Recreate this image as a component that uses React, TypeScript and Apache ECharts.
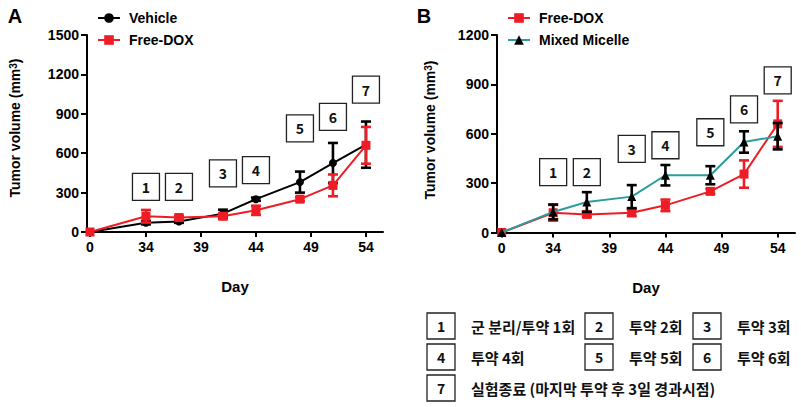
import React, { useEffect, useRef } from 'react';
import * as echarts from 'echarts';

// ---- data ----
const days = [0, 34, 37, 41, 44, 48, 51, 54];
const vehicle = [0, 70, 80, 140, 250, 380, 525, 665];
const vehicleErr = [0, 12, 10, 30, 12, 80, 153, 176];
const freeDox = [0, 120, 110, 120, 165, 250, 355, 660];
const freeDoxErr = [0, 48, 15, 20, 35, 15, 83, 140];
const micelle = [0, 125, 185, 218, 348, 348, 550, 585];
const micelleErr = [0, 45, 60, 70, 62, 55, 65, 80];

const xTickDays = [0, 34, 39, 44, 49, 54];
const yMaxA = 1500;
const yMaxB = 1200;
const yInterval = 300;

const stepDays = [34, 37, 41, 44, 48, 51, 54];
const stepLabels = ['1', '2', '3', '4', '5', '6', '7'];
const stepBoxYA = [343, 343, 446, 471, 789, 876, 1084];
const stepBoxYB = [367, 367, 508, 530, 609, 748, 924];
const stepNotes = [
  '군 분리/투약 1회',
  '투약 2회',
  '투약 3회',
  '투약 4회',
  '투약 5회',
  '투약 6회',
  '실험종료 (마지막 투약 후 3일 경과시점)',
];

// ---- layout / style ----
const FONT = 'Arial, "Liberation Sans", sans-serif';
const KFONT = '"Noto Sans CJK KR", "Noto Sans", sans-serif';
const RED = '#ee1c25';
const TEAL = '#2a9d9f';
const BLACK = '#000';

// broken x axis: day 0 is drawn just right of the y axis
const PANEL_A = { zero: 28.91, min: 28.64, max: 55.55 };
const PANEL_B = { zero: 29.42, min: 29.0, max: 55.54 };

const xPos = (d: number, zero: number) => (d === 0 ? zero : d);

function lineData(vals: number[], zero: number) {
  return days.map((d, i) => [xPos(d, zero), vals[i]]);
}
function errData(vals: number[], errs: number[], zero: number) {
  return days
    .map((d, i) => [xPos(d, zero), vals[i] - errs[i], vals[i] + errs[i], errs[i]])
    .filter((r) => r[3] > 0);
}

function errSeries(name: string, vals: number[], errs: number[], zero: number, color: string, axis: number) {
  return {
    type: 'custom',
    name: name + ' err',
    xAxisIndex: axis,
    yAxisIndex: axis,
    z: 4,
    silent: true,
    data: errData(vals, errs, zero),
    encode: { x: 0, y: [1, 2] },
    renderItem: (params: any, api: any) => {
      const x = api.value(0);
      const lo = api.coord([x, api.value(1)]);
      const hi = api.coord([x, api.value(2)]);
      const half = 5;
      const style = { stroke: color, lineWidth: 2.6 };
      return {
        type: 'group',
        children: [
          { type: 'line', shape: { x1: lo[0], y1: lo[1], x2: hi[0], y2: hi[1] }, style },
          { type: 'line', shape: { x1: hi[0] - half, y1: hi[1], x2: hi[0] + half, y2: hi[1] }, style },
          { type: 'line', shape: { x1: lo[0] - half, y1: lo[1], x2: lo[0] + half, y2: lo[1] }, style },
        ],
      };
    },
  };
}

function lineSeries(name: string, vals: number[], zero: number, lineColor: string, markColor: string, symbol: string, size: number, axis: number, z: number) {
  return {
    type: 'line',
    name,
    xAxisIndex: axis,
    yAxisIndex: axis,
    z,
    data: lineData(vals, zero),
    symbol,
    symbolSize: size,
    showAllSymbol: true,
    lineStyle: { color: lineColor, width: 2 },
    itemStyle: { color: markColor, opacity: 1 },
    emphasis: { disabled: true },
  };
}

function boxSeries(ys: number[], axis: number) {
  return {
    type: 'scatter',
    xAxisIndex: axis,
    yAxisIndex: axis,
    z: 1,
    silent: true,
    symbol: 'rect',
    symbolSize: [27, 27],
    itemStyle: { color: '#fff', borderColor: '#222', borderWidth: 1.3, opacity: 1 },
    label: {
      show: true,
      position: 'inside',
      formatter: (p: any) => stepLabels[p.dataIndex],
      color: '#111',
      fontWeight: 'bold',
      fontSize: 14,
      fontFamily: KFONT,
    },
    emphasis: { disabled: true },
    data: stepDays.map((d, i) => [d, ys[i]]),
  };
}

function xAxis(panel: { zero: number; min: number; max: number }, grid: number) {
  const ticks = xTickDays.map((d) => xPos(d, panel.zero));
  return {
    type: 'value',
    gridIndex: grid,
    min: panel.min,
    max: panel.max,
    name: 'Day',
    nameLocation: 'middle',
    nameGap: 47,
    nameTextStyle: { fontSize: 15, fontWeight: 'bold', color: BLACK, fontFamily: FONT },
    splitLine: { show: false },
    axisLine: { show: true, lineStyle: { color: BLACK, width: 2 } },
    axisTick: { show: true, length: 5, lineStyle: { color: BLACK, width: 2 }, customValues: ticks },
    axisLabel: {
      customValues: ticks,
      margin: 8,
      fontSize: 14,
      fontWeight: 'bold',
      color: BLACK,
      fontFamily: FONT,
      formatter: (v: number) => (Math.abs(v - panel.zero) < 0.01 ? '0' : String(Math.round(v))),
    },
  };
}

function yAxis(max: number, grid: number) {
  return {
    type: 'value',
    gridIndex: grid,
    min: 0,
    max,
    interval: yInterval,
    splitLine: { show: false },
    axisLine: { show: true, lineStyle: { color: BLACK, width: 2 } },
    axisTick: { show: true, length: 6, lineStyle: { color: BLACK, width: 2 } },
    axisLabel: {
      margin: 8,
      fontSize: 14,
      fontWeight: 'bold',
      color: BLACK,
      fontFamily: FONT,
      formatter: (v: number) => String(v),
    },
  };
}

function bottomLegend() {
  const boxLeft = [427, 585, 693];
  const rowY = [326, 357, 388];
  const slots = [
    [0, 0], [1, 0], [2, 0],
    [0, 1], [1, 1], [2, 1],
    [0, 2],
  ];
  const els: any[] = [];
  stepNotes.forEach((note, i) => {
    const [c, r] = slots[i];
    const bx = boxLeft[c];
    const cy = rowY[r];
    els.push({
      type: 'rect',
      shape: { x: bx, y: cy - 13, width: 28, height: 26 },
      style: { fill: '#fff', stroke: '#222', lineWidth: 1.3 },
    });
    els.push({
      type: 'text',
      x: bx + 14,
      y: cy,
      style: { text: stepLabels[i], fontSize: 14, fontWeight: 'bold', fill: '#111', fontFamily: KFONT, align: 'center', verticalAlign: 'middle' },
    });
    els.push({
      type: 'text',
      x: bx + 44,
      y: cy,
      style: { text: note, fontSize: 15, fontWeight: 'bold', fill: '#111', fontFamily: KFONT, align: 'left', verticalAlign: 'middle' },
    });
  });
  return els;
}

function yTitle(x: number, y: number) {
  return {
    type: 'text',
    x,
    y,
    rotation: Math.PI / 2,
    style: {
      text: 'Tumor volume (mm{sup|3})',
      fontSize: 14,
      fontWeight: 'bold',
      fontFamily: FONT,
      fill: BLACK,
      align: 'center',
      verticalAlign: 'middle',
      rich: { sup: { fontSize: 10, fontWeight: 'bold', fontFamily: FONT, verticalAlign: 'top', fill: BLACK } },
    },
  };
}

export default function App() {
  const ref = useRef<HTMLDivElement>(null);
  useEffect(() => {
    document.body.style.margin = '0';
    if (!ref.current) return;
    const chart = echarts.init(ref.current, undefined, { renderer: 'svg' });
    const legendText = { fontSize: 14, fontWeight: 'bold', color: BLACK, fontFamily: FONT, padding: [0, 0, 0, 4] };
    chart.setOption({
      animation: false,
      backgroundColor: '#fff',
      textStyle: { fontFamily: FONT },
      grid: [
        { left: 87, top: 35, width: 296, height: 197 },
        { left: 497, top: 35, width: 298, height: 197.5 },
      ],
      xAxis: [xAxis(PANEL_A, 0), xAxis(PANEL_B, 1)],
      yAxis: [yAxis(yMaxA, 0), yAxis(yMaxB, 1)],
      legend: [
        {
          left: 92,
          top: 6,
          orient: 'vertical',
          itemWidth: 22,
          itemHeight: 12,
          itemGap: 8,
          selectedMode: false,
          data: ['Vehicle', 'Free-DOX'],
          textStyle: legendText,
        },
        {
          left: 502,
          top: 6,
          orient: 'vertical',
          itemWidth: 22,
          itemHeight: 12,
          itemGap: 8,
          selectedMode: false,
          data: ['Free-DOX', 'Mixed Micelle'],
          textStyle: legendText,
        },
      ],
      series: [
        boxSeries(stepBoxYA, 0),
        lineSeries('Vehicle', vehicle, PANEL_A.zero, BLACK, BLACK, 'circle', 8, 0, 2),
        errSeries('Vehicle', vehicle, vehicleErr, PANEL_A.zero, BLACK, 0),
        lineSeries('Free-DOX', freeDox, PANEL_A.zero, RED, RED, 'rect', 9, 0, 5),
        errSeries('Free-DOX', freeDox, freeDoxErr, PANEL_A.zero, RED, 0),
        boxSeries(stepBoxYB, 1),
        lineSeries('Free-DOX', freeDox, PANEL_B.zero, RED, RED, 'rect', 9, 1, 2),
        errSeries('Free-DOX', freeDox, freeDoxErr, PANEL_B.zero, RED, 1),
        lineSeries('Mixed Micelle', micelle, PANEL_B.zero, TEAL, BLACK, 'triangle', 9, 1, 5),
        errSeries('Mixed Micelle', micelle, micelleErr, PANEL_B.zero, BLACK, 1),
      ],
      graphic: [
        { type: 'text', x: 15, y: 16, style: { text: 'A', fontSize: 20, fontWeight: 'bold', fontFamily: FONT, fill: BLACK, align: 'center', verticalAlign: 'middle' } },
        { type: 'text', x: 424, y: 16, style: { text: 'B', fontSize: 20, fontWeight: 'bold', fontFamily: FONT, fill: BLACK, align: 'center', verticalAlign: 'middle' } },
        yTitle(15, 128),
        yTitle(430, 130),
        ...bottomLegend(),
      ],
    });
    return () => chart.dispose();
  }, []);
  return <div ref={ref} style={{ width: 801, height: 407 }} />;
}
